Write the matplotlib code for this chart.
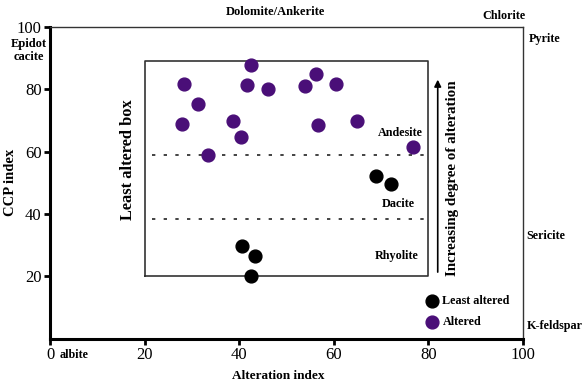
import numpy as np
import matplotlib.pyplot as plt

plt.rcParams['font.family'] = ['Liberation Serif', 'DejaVu Serif']

# altered samples (purple)
alt_x = [28.3, 31.3, 28.0, 33.5, 42.6, 41.6, 46.2, 38.7, 40.4,
         56.2, 53.9, 60.5, 56.7, 65.0, 76.7]
alt_y = [81.7, 75.2, 68.8, 58.8, 87.7, 81.5, 80.1, 69.9, 64.6,
         85.0, 81.1, 81.8, 68.7, 70.0, 61.6]

# least altered samples (black)
least_x = [68.9, 72.2, 40.7, 43.3, 42.5]
least_y = [52.2, 49.5, 29.9, 26.7, 20.0]

# least altered box and rock boundaries
box_x = [20, 80]
box_y = [20, 89]
boundaries = [59, 38.5]

purple = '#4a0f78'

fig = plt.figure(figsize=(5.83, 3.85), dpi=100)
ax = fig.add_axes([0.0858, 0.12, 0.811, 0.81])
ax.set_xlim(0, 100)
ax.set_ylim(0, 100)

ax.plot([box_x[0], box_x[0], box_x[1], box_x[1], box_x[0]],
        [box_y[0], box_y[1], box_y[1], box_y[0], box_y[0]],
        color='#333333', lw=1.2)
for b in boundaries:
    ax.plot([21.5, 80], [b, b], color='#222222', lw=1.2, ls=(0, (2, 5)))

ax.scatter(alt_x, alt_y, s=85, color=purple, zorder=3)
ax.scatter(least_x, least_y, s=85, color='black', zorder=3)

# legend drawn by hand
ax.scatter([80.7], [12.2], s=85, color='black', clip_on=False)
ax.scatter([80.7], [5.5], s=85, color=purple, clip_on=False)
bold = dict(fontweight='bold', fontsize=8.7)
ax.text(83, 12.2, 'Least altered', va='center', ha='left', **bold)
ax.text(83, 5.5, 'Altered', va='center', ha='left', **bold)

# rock type labels
ax.text(74, 66, 'Andesite', ha='center', va='center', **bold)
ax.text(73.6, 43.3, 'Dacite', ha='center', va='center', **bold)
ax.text(73.3, 26.4, 'Rhyolite', ha='center', va='center', **bold)

ax.text(16.5, 57.5, 'Least altered box', rotation=90, ha='center',
        va='center', fontweight='bold', fontsize=11.8)
ax.annotate('', xy=(82, 84), xytext=(82, 20.5),
            arrowprops=dict(arrowstyle='-|>', color='black', lw=1.2))
ax.text(85.2, 51.6, 'Increasing degree of alteration', rotation=90,
        ha='center', va='center', fontweight='bold', fontsize=10.8)

# mineral labels around the frame
ax.text(47.6, 104.8, 'Dolomite/Ankerite', ha='center', va='center',
        clip_on=False, fontweight='bold', fontsize=9)
ax.text(96, 103.5, 'Chlorite', ha='center', va='center', clip_on=False, **bold)
ax.text(101.3, 96, 'Pyrite', ha='left', va='center', clip_on=False, **bold)
ax.text(-4.5, 92.5, 'Epidot\ncacite', ha='center', va='center',
        linespacing=1.1, clip_on=False, fontweight='bold', fontsize=9)
ax.text(100.8, 33, 'Sericite', ha='left', va='center', clip_on=False, **bold)
ax.text(100.8, 4.2, 'K-feldspar', ha='left', va='center', clip_on=False, **bold)
ax.text(2.1, -5.1, 'albite', ha='left', va='center', clip_on=False, **bold)

ax.set_xticks([0, 20, 40, 60, 80, 100])
ax.set_yticks([20, 40, 60, 80, 100])
ax.tick_params(labelsize=12, width=2, length=4, direction='out', pad=2)
ax.set_xlabel('Alteration index', fontweight='bold', fontsize=9.5, labelpad=5)
ax.xaxis.label.set_x(0.482)
ax.set_ylabel('CCP index', fontweight='bold', fontsize=10.5, labelpad=0)

for s in ['left', 'bottom']:
    ax.spines[s].set_linewidth(2.2)
for s in ['top', 'right']:
    ax.spines[s].set_linewidth(1.0)
    ax.spines[s].set_color('#333333')

plt.savefig('out.png', dpi=100)
